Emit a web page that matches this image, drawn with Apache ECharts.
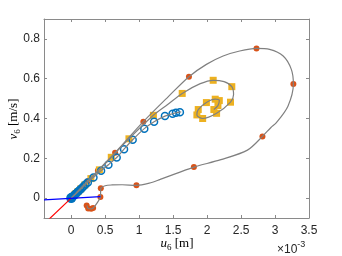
<!DOCTYPE html>
<html>
<head>
<meta charset="utf-8">
<script src="https://cdn.jsdelivr.net/npm/echarts@6.0.0/dist/echarts.min.js"></script>
<style>html,body{margin:0;padding:0;background:#fff;}#c{width:342px;height:256px;}</style>
</head>
<body>
<div id="c"></div>
<script>
// u6 values are in units of 1e-3 m (axis shows x10^-3), v6 in m/s
const xTicks = [0, 0.5, 1, 1.5, 2, 2.5, 3, 3.5];
const yTicks = [0, 0.2, 0.4, 0.6, 0.8];

// outer trajectory (gray curve)
const outerU = [0.23,0.25,0.294,0.323,0.38,0.43,0.436,0.50,0.60,0.75,0.96,1.15,1.31,1.55,1.806,2.203,2.594,2.815,2.94,3.02,3.19,3.27,3.24,3.12,2.92,2.727,2.48,2.236,1.99,1.733,1.43,1.062,0.646,0.394,0.24,0.146,0.09,0.05,0];
const outerV = [-0.037,-0.052,-0.054,-0.050,-0.025,0.005,0.049,0.062,0.066,0.067,0.064,0.075,0.094,0.124,0.156,0.193,0.241,0.31,0.355,0.379,0.462,0.573,0.647,0.714,0.747,0.752,0.739,0.714,0.672,0.61,0.51,0.384,0.228,0.139,0.085,0.052,0.032,0.018,0];
// orange markers on outer trajectory
const orangeU = [0.228,0.25,0.294,0.323,0.43,0.436,0.96,1.806,2.815,3.27,2.727,1.733,1.062,0.646,0.394,0.24,0.146,0.09,0.055];
const orangeV = [-0.037,-0.052,-0.054,-0.050,0.005,0.049,0.064,0.156,0.31,0.573,0.752,0.61,0.384,0.228,0.139,0.085,0.052,0.032,0.019];

// inner (yellow) trajectory
const yellowPathU = [2.10,2.16,2.18,2.12,1.99,1.87,1.85,1.935,2.14,2.345,2.39,2.364,2.25,2.09,1.90,1.634,1.42,1.21,0.85,0.59,0.415,0.29,0.2,0.14,0.1,0.07,0.05,0];
const yellowPathV = [0.445,0.465,0.49,0.497,0.48,0.445,0.418,0.40,0.426,0.482,0.52,0.56,0.585,0.592,0.575,0.526,0.47,0.416,0.298,0.205,0.142,0.098,0.066,0.046,0.033,0.023,0.016,0];
const yellowU = [2.10,2.16,2.18,2.12,1.99,1.87,1.85,1.935,2.14,2.345,2.364,2.09,1.634,1.21,0.85,0.59,0.415,0.29,0.2,0.14,0.1,0.07,0.05];
const yellowV = [0.445,0.465,0.49,0.497,0.48,0.445,0.418,0.40,0.426,0.482,0.56,0.592,0.526,0.416,0.298,0.205,0.142,0.098,0.066,0.046,0.033,0.023,0.016];

// blue circle trajectory
const blueU = [1.62,1.60,1.542,1.493,1.38,1.22,1.076,0.905,0.778,0.67,0.548,0.44,0.328,0.245,0.21,0.18,0.155,0.135,0.115,0.1,0.085,0.072,0.06,0.05,0.041,0.033,0.026,0.02,0.015,0.011,0.007,0.004,0.002,0];
const blueV = [0.434,0.432,0.429,0.424,0.412,0.384,0.349,0.293,0.246,0.204,0.168,0.138,0.104,0.079,0.068,0.058,0.050,0.043,0.037,0.032,0.027,0.023,0.019,0.016,0.013,0.011,0.0085,0.0065,0.005,0.0035,0.0022,0.0013,0.0006,0];

// straight lines through the equilibrium
const redLineU = [-0.4, 0];
const redLineV = [-0.13, 0];
const blueLineU = [-0.4, 0.43];
const blueLineV = [-0.009, 0.007];
const originU = [0], originV = [0];

const zip = (a, b) => a.map((v, i) => [v, b[i]]);

const axisColor = '#8a8a8a';
const labelColor = '#262626';
const fmt = v => String(Math.round(v * 10) / 10);

const chart = echarts.init(document.getElementById('c'), null, {renderer: 'canvas'});
const baseX = {
  type: 'value', min: -0.4, max: 3.5,
  axisLine: {show: true, onZero: false, lineStyle: {color: axisColor, width: 1}},
  axisTick: {show: true, inside: true, length: 3, customValues: xTicks, lineStyle: {color: axisColor}},
  splitLine: {show: false}
};
const baseY = {
  type: 'value', min: -0.1, max: 0.9,
  axisLine: {show: true, onZero: false, lineStyle: {color: axisColor, width: 1}},
  axisTick: {show: true, inside: true, length: 3, customValues: yTicks, lineStyle: {color: axisColor}},
  splitLine: {show: false}
};
const serif = 'Liberation Serif';
chart.setOption({
  animation: false,
  backgroundColor: '#fff',
  grid: {left: 44, right: 33, top: 19, bottom: 38, containLabel: false},
  xAxis: [
    Object.assign({}, baseX, {position: 'bottom', axisLabel: {show: true, customValues: xTicks, formatter: fmt, color: labelColor, fontSize: 12, fontFamily: 'Liberation Sans', margin: 7}}),
    Object.assign({}, baseX, {position: 'top', axisLabel: {show: false}})
  ],
  yAxis: [
    Object.assign({}, baseY, {position: 'left', axisLabel: {show: true, customValues: yTicks, formatter: fmt, color: labelColor, fontSize: 12, fontFamily: 'Liberation Sans', margin: 4}}),
    Object.assign({}, baseY, {position: 'right', axisLabel: {show: false}})
  ],
  series: [
    {type: 'line', data: zip(outerU, outerV), smooth: 0.3, showSymbol: false, lineStyle: {color: '#808080', width: 1.2}},
    {type: 'line', data: zip(yellowPathU, yellowPathV), smooth: 0.3, showSymbol: false, lineStyle: {color: '#808080', width: 1.2}},
    {type: 'line', data: zip(blueU, blueV), smooth: 0.3, showSymbol: false, lineStyle: {color: '#808080', width: 1.2}},
    {type: 'line', data: zip(redLineU, redLineV), showSymbol: false, lineStyle: {color: '#ff0000', width: 1.2}},
    {type: 'line', data: zip(blueLineU, blueLineV), showSymbol: false, lineStyle: {color: '#0000ff', width: 1.2}},
    {type: 'scatter', data: zip(orangeU, orangeV), symbol: 'circle', symbolSize: 6, itemStyle: {color: '#D95319', opacity: 1}},
    {type: 'scatter', data: zip(yellowU, yellowV), symbol: 'rect', symbolSize: 7, itemStyle: {color: '#EDB120', opacity: 1}},
    {type: 'scatter', data: zip(blueU.slice(1), blueV.slice(1)), symbol: 'circle', symbolSize: 7, itemStyle: {color: 'rgba(0,0,0,0)', borderColor: '#0072BD', borderWidth: 1.5, opacity: 1}},
    {type: 'scatter', data: zip(originU, originV), symbol: 'circle', symbolSize: 10, itemStyle: {color: '#0072BD', opacity: 1}}
  ],
  graphic: [
    {type: 'text', x: 14, y: 119, rotation: Math.PI / 2, style: {
      text: '{v|v}{s|6}{r| [m/s]}', align: 'center', verticalAlign: 'middle', fill: '#000',
      rich: {
        v: {fontFamily: serif, fontStyle: 'italic', fontSize: 13, lineHeight: 16, verticalAlign: 'middle', fill: '#000'},
        s: {fontFamily: serif, fontSize: 9, verticalAlign: 'bottom', fill: '#000'},
        r: {fontFamily: serif, fontSize: 13, lineHeight: 16, verticalAlign: 'middle', fill: '#000'}
      }}},
    {type: 'text', x: 177, y: 244, style: {
      text: '{v|u}{s|6}{r| [m]}', align: 'center', verticalAlign: 'middle', fill: '#000',
      rich: {
        v: {fontFamily: serif, fontStyle: 'italic', fontSize: 13, lineHeight: 16, verticalAlign: 'middle', fill: '#000'},
        s: {fontFamily: serif, fontSize: 9, verticalAlign: 'bottom', fill: '#000'},
        r: {fontFamily: serif, fontSize: 13, lineHeight: 16, verticalAlign: 'middle', fill: '#000'}
      }}},
    {type: 'text', x: 277, y: 240, style: {
      text: '{a|×10}{b|-3}', align: 'left', verticalAlign: 'top', fill: labelColor,
      rich: {
        a: {fontFamily: 'Liberation Sans', fontSize: 12, lineHeight: 16, verticalAlign: 'bottom', fill: labelColor},
        b: {fontFamily: 'Liberation Sans', fontSize: 9, verticalAlign: 'top', fill: labelColor}
      }}}
  ]
});
</script>
</body>
</html>
